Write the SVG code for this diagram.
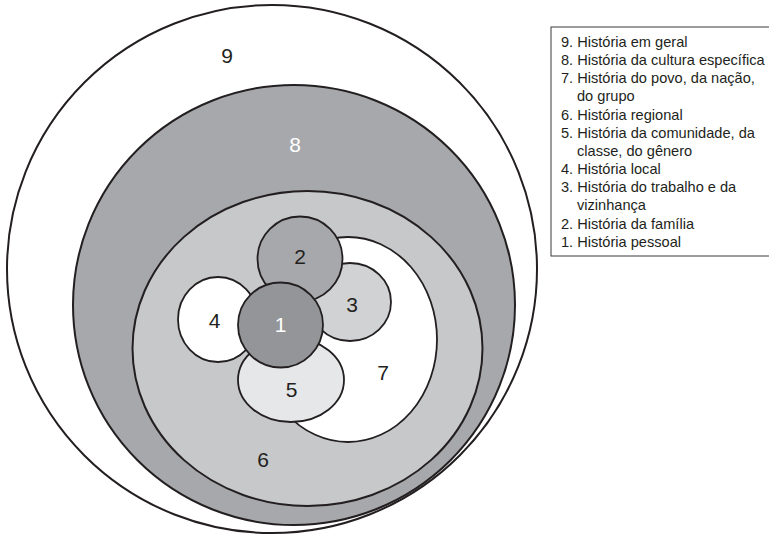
<svg xmlns="http://www.w3.org/2000/svg" width="769" height="537" viewBox="0 0 769 537">
<style>
.s{stroke:#231f20;stroke-width:2}
.i{stroke:#231f20;stroke-width:1.8}
.n{font-family:"Liberation Sans",Arial,sans-serif;font-size:21px;text-anchor:middle;fill:#231f20}
.w{fill:#ffffff}
.lg{font-family:"Liberation Sans",Arial,sans-serif;font-size:14.6px;fill:#231f20}
</style>
<rect width="769" height="537" fill="#ffffff"/>
<g id="node9"><ellipse class="s" cx="272" cy="269" rx="265" ry="264" fill="#ffffff"/><text class="n" x="227" y="63">9</text></g>
<g id="node8"><ellipse class="s" cx="294" cy="305" rx="221" ry="220" fill="#a7a8ab"/><text class="n w" x="295" y="152">8</text></g>
<g id="node6"><ellipse class="s" cx="307.5" cy="348.5" rx="175" ry="157.5" fill="#c7c8ca"/><text class="n" x="263" y="467">6</text></g>
<g id="node7"><ellipse class="i" cx="348" cy="339.5" rx="89" ry="102.5" fill="#ffffff"/><text class="n" x="383" y="380">7</text></g>
<g id="node4"><ellipse class="i" cx="218" cy="319.5" rx="40" ry="42.5" fill="#ffffff"/><text class="n" x="214.5" y="328">4</text></g>
<g id="node5"><ellipse class="i" cx="291" cy="380" rx="53" ry="42" fill="#e6e7e8"/><text class="n" x="291.5" y="397">5</text></g>
<g id="node3"><ellipse class="i" cx="350" cy="302" rx="41" ry="39" fill="#d1d2d4"/><text class="n" x="352" y="312">3</text></g>
<g id="node2"><circle class="i" cx="300" cy="259" r="42.5" fill="#a7a8ab"/><text class="n" x="300" y="264">2</text></g>
<g id="node1"><circle class="i" cx="280.5" cy="325" r="42.5" fill="#939598"/><text class="n w" x="280.5" y="332">1</text></g>
<g id="connectors"></g>
<g id="legend">
<rect x="551" y="27" width="225" height="229" fill="#ffffff" stroke="#3a3a3a" stroke-width="1"/>
<text class="lg" x="561" y="47">9. História em geral</text>
<text class="lg" x="561" y="65">8. História da cultura específica</text>
<text class="lg" x="561" y="83">7. História do povo, da nação,</text>
<text class="lg" x="577" y="101">do grupo</text>
<text class="lg" x="561" y="119.5">6. História regional</text>
<text class="lg" x="561" y="137.5">5. História da comunidade, da</text>
<text class="lg" x="577" y="155.5">classe, do gênero</text>
<text class="lg" x="561" y="174">4. História local</text>
<text class="lg" x="561" y="192">3. História do trabalho e da</text>
<text class="lg" x="577" y="210">vizinhança</text>
<text class="lg" x="561" y="228.5">2. História da família</text>
<text class="lg" x="561" y="246.5">1. História pessoal</text>
</g>
</svg>
